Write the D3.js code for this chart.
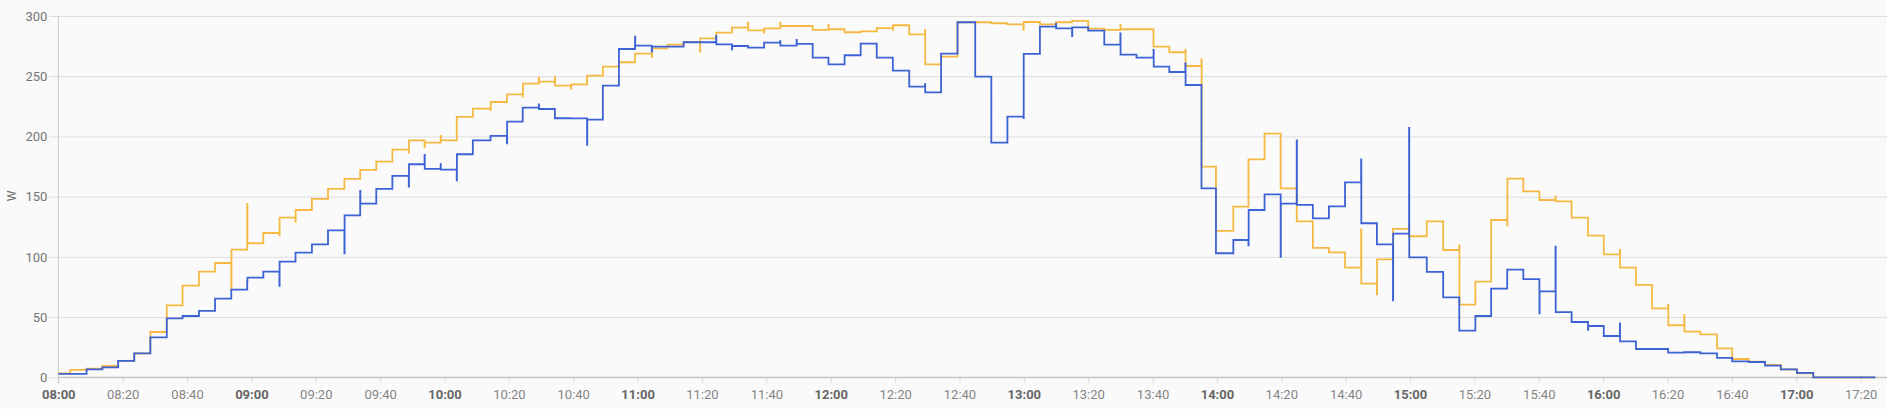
<!DOCTYPE html>
<html>
<head>
<meta charset="utf-8">
<script src="https://cdn.jsdelivr.net/npm/d3@7"></script>
<style>
  html, body { margin: 0; padding: 0; background: #fafafa; }
  svg { display: block; }
  text { font-family: Roboto, "Noto Sans", sans-serif; }
</style>
</head>
<body>
<svg id="chart" width="1887" height="409"></svg>
<script>
// ---- data (minutes after 08:00, watts) ----
const startTime = "08:00";
const endMinute = 564.6;
const stepMinutes = [0, 3.7, 8.8, 13.7, 18.6, 23.6, 28.6, 33.7, 38.6, 43.7,
  48.7, 53.75, 58.7, 63.7, 68.7, 73.7, 78.8, 83.8, 88.9, 93.8,
  98.8, 103.8, 108.9, 113.8, 118.8, 123.8, 128.8, 134.3, 139.4, 144.3,
  149.3, 154.3, 159.3, 164.3, 169.2, 174.2, 179.2, 184.4, 189.3, 194.3,
  199.4, 204.4, 209.3, 214.3, 219.3, 224.3, 229.4, 234.4, 239.3, 244.3,
  249.3, 254.3, 259.3, 264.4, 269.3, 274.3, 279.4, 284.9, 289.9, 294.9,
  299.9, 305, 310, 315, 320, 325, 330, 335, 340.3, 345.2,
  350.2, 355.2, 359.7, 365.1, 369.8, 374.8, 379.8, 384.8, 389.8, 394.8,
  399.8, 404.8, 409.7, 414.7, 419.7, 425.2, 430.3, 435.3, 440.3, 445.2,
  450.2, 455.2, 460.2, 465.2, 470.2, 475.3, 480.2, 485.2, 490.2, 495.2,
  500.2, 505.2, 510.2, 515.4, 520.1, 525.2, 530.3, 535.2, 540.2, 545.3];

const yellowValues = [3.3, 6.1, 7.2, 9.4, 13.6, 19.9, 37.6, 59.8, 76.1, 87.7,
  94.9, 106, 111.3, 119.8, 132.6, 138.9, 148.1, 156.4, 164.7, 172.2,
  179.1, 189, 196.8, 194.8, 196.8, 216.2, 223.1, 228.6, 235, 243.8,
  245.5, 242.2, 243.3, 250.5, 258, 261.6, 268.8, 273.2, 276.2, 278.4,
  281.5, 286.2, 290.3, 288.1, 289.8, 291.7, 291.7, 288.4, 289, 286.5,
  287.3, 290, 292.3, 284.8, 259.9, 266.3, 294.8, 294.8, 294, 293.1,
  295, 293.1, 294.8, 295.9, 289.5, 288.4, 289, 289, 274.6, 269.9,
  258.5, 174.9, 121.5, 141.7, 181, 202.3, 156.9, 129.5, 107.4, 103.8,
  91.1, 77.8, 98, 123.2, 117.1, 129.5, 105.7, 60.3, 79.4, 130.6,
  165, 154.4, 147.2, 146.1, 132.6, 117.6, 102.1, 91.1, 76.7, 57.3,
  43.2, 37.9, 35.7, 24.1, 15.2, 13, 10.2, 6.6, 3.3, 0];

const blueValues = [2.8, 2.8, 6.6, 8.3, 13.6, 19.9, 33.2, 49.0, 50.9, 55.1,
  65.3, 72.8, 82.8, 87.7, 96, 103.5, 110.4, 122, 134.5, 144.2,
  156.4, 167.2, 176.9, 173, 172.4, 185.2, 196.8, 200.4, 212.3, 223.9,
  222.8, 215.1, 215, 214, 242.2, 272.6, 275.4, 274.6, 274.6, 278.2,
  278.2, 276.5, 275.1, 273.7, 277.9, 275.4, 276.8, 265.4, 259.9, 267.4,
  277, 265.4, 254.6, 241.3, 236.6, 268.8, 294.8, 249.7, 194.8, 216.4,
  268.5, 291.2, 289.8, 290.6, 287.8, 276.2, 267.9, 265.4, 258, 253.5,
  242.7, 156.9, 103, 114, 138.9, 151.9, 144.2, 143.1, 132, 142,
  161.9, 127.9, 110.4, 119.3, 99.6, 87.5, 66.4, 38.7, 50.9, 73.6,
  89.4, 81.6, 71.4, 54.2, 45.9, 42.6, 34.3, 29.9, 23.5, 23.5,
  20.5, 20.8, 19.9, 16.1, 13.3, 12.7, 9.7, 6.6, 3.6, 0];

// short-lived readings at a step (step index, value)
const yellowSpikes = [[11, 73], [12, 144], [14, 118], [15, 129], [22, 186.5], [23, 191], [24, 200.4],
  [27, 222], [29, 233], [30, 248.8], [31, 249.4], [32, 239.7], [37, 266], [40, 270.4], [43, 294.5],
  [44, 286.2], [45, 294.5], [48, 292.6], [52, 288.4], [54, 288.4], [60, 288.4], [66, 292.6], [70, 271.8],
  [71, 264], [81, 122.9], [82, 68.9], [87, 109.6], [90, 126.2], [93, 150], [97, 105.7], [100, 60.3], [101, 51.7]];

const blueSpikes = [[12, 80], [14, 76], [18, 103], [19, 154.7], [22, 158.3], [23, 184.6], [24, 177],
  [25, 163.6], [28, 194.3], [30, 226.7], [33, 193], [36, 282.9], [37, 270.4], [41, 283.4], [42, 272.3],
  [45, 279.2], [46, 280.1], [54, 243.5], [60, 215.3], [62, 293.4], [63, 283.4], [66, 285.6], [68, 271.8],
  [70, 260.7], [74, 109.6], [76, 100], [77, 196.8], [81, 181], [83, 63.9], [84, 207], [92, 53.1],
  [93, 108.5], [95, 39.3], [97, 44.8]];

const yTicks = [0, 50, 100, 150, 200, 250, 300];
const yLabel = "W";
const seriesColors = ["#F5B942", "#3D62D4"];

// ---- layout ----
const CW = 1887, CH = 409;
const mLeft = 58.3, mRight = 1887, mTop = 16, mBottom = 377.3;
const base = new Date(2020, 0, 1, +startTime.slice(0, 2), +startTime.slice(3), 0);
const toDate = m => new Date(base.getTime() + m * 60000);

const x = d3.scaleTime().domain([toDate(0), toDate(568.2)]).range([mLeft, mRight]);
const y = d3.scaleLinear().domain([0, 300]).range([mBottom, mTop]);

const svg = d3.select("#chart");

// horizontal grid
const gy = svg.append("g").attr("transform", `translate(${mLeft},0)`)
  .call(d3.axisLeft(y).tickValues(yTicks).tickSize(-(mRight - mLeft)).tickSizeOuter(0).tickPadding(3));
gy.select(".domain").remove();
gy.selectAll(".tick line").attr("stroke", "#dedede").attr("x1", -9);
gy.selectAll(".tick text").attr("x", -11).attr("fill", "#757575").attr("font-size", 13)
  .attr("font-family", "Roboto, sans-serif");

// vertical grid + x labels
const xTicks = d3.range(0, 561, 20).map(toDate);
const gx = svg.append("g").attr("transform", `translate(0,${mBottom})`)
  .call(d3.axisBottom(x).tickValues(xTicks).tickSize(-(mBottom - mTop)).tickSizeOuter(0)
    .tickFormat(d3.timeFormat("%H:%M")));
gx.select(".domain").remove();
gx.selectAll(".tick line").attr("stroke", "#dedede").attr("y2", 6);
gx.selectAll(".tick text")
  .attr("y", 0).attr("dy", 0).attr("transform", "translate(0,22)")
  .attr("font-size", 13).attr("font-family", "Roboto, sans-serif")
  .attr("font-weight", d => d.getMinutes() === 0 ? "bold" : "normal")
  .attr("fill", d => d.getMinutes() === 0 ? "#666" : "#858585");

// axis lines
svg.append("line").attr("x1", mLeft).attr("x2", mRight).attr("y1", mBottom).attr("y2", mBottom)
  .attr("stroke", "#c4c4c4").attr("stroke-width", 1.2);
svg.append("line").attr("x1", mLeft).attr("x2", mLeft).attr("y1", mTop).attr("y2", mBottom + 6)
  .attr("stroke", "#c8c8c8");

// y label
svg.append("text").attr("transform", `translate(16,196) rotate(-90)`)
  .attr("text-anchor", "middle").attr("font-size", 12).attr("fill", "#666")
  .attr("font-family", "Roboto, sans-serif").text(yLabel);

function buildPoints(values, spikes) {
  const sp = new Map(spikes);
  const pts = [];
  stepMinutes.forEach((t, i) => {
    if (sp.has(i)) {
      pts.push([t, sp.get(i)]);
      pts.push([t + 0.06, values[i]]);
    } else {
      pts.push([t, values[i]]);
    }
  });
  pts.push([endMinute, values[values.length - 1]]);
  return pts;
}

const line = d3.line()
  .x(d => x(toDate(d[0])))
  .y(d => y(d[1]))
  .curve(d3.curveStepAfter);

const series = [
  { values: yellowValues, spikes: yellowSpikes, color: seriesColors[0] },
  { values: blueValues, spikes: blueSpikes, color: seriesColors[1] }
];

svg.append("g").selectAll("path").data(series).join("path")
  .attr("d", s => line(buildPoints(s.values, s.spikes)))
  .attr("fill", "none")
  .attr("stroke", s => s.color)
  .attr("stroke-width", 1.8)
  .attr("stroke-linejoin", "miter");
</script>
</body>
</html>
